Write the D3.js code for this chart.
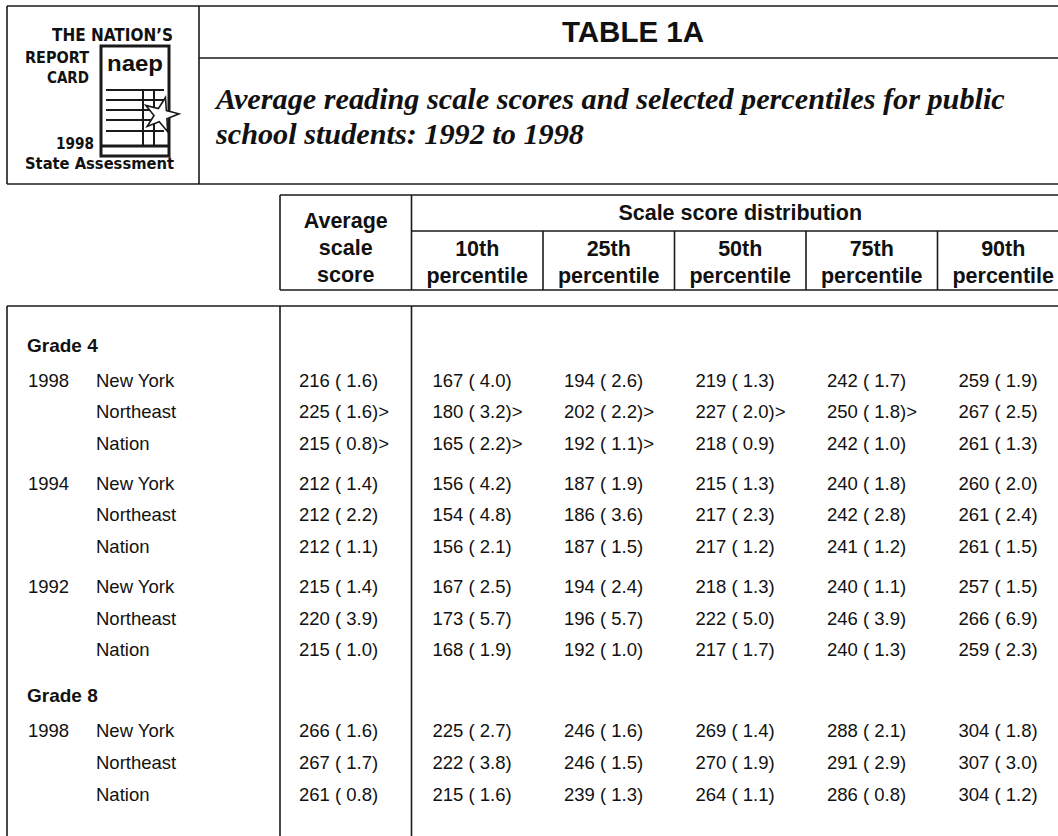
<!DOCTYPE html>
<html>
<head>
<meta charset="utf-8">
<script src="https://cdn.jsdelivr.net/npm/d3@7"></script>
<style>
  html, body { margin: 0; padding: 0; background: #fff; }
  svg { display: block; }
  text { fill: #111; }
</style>
</head>
<body>
<div id="chart"></div>
<script>
// Table 1A - NAEP 1998 reading, New York

const tableTitle = 'TABLE 1A';
const subtitleLines = [
    'Average reading scale scores and selected percentiles for public',
    'school students: 1992 to 1998'
];
const logoLines = ['THE NATION\u2019S', 'REPORT', 'CARD', '1998', 'State Assessment'];

const columns = ['avg', 'p10', 'p25', 'p50', 'p75', 'p90'];
const columnHeaders = [
    ['Average', 'scale', 'score'],
    ['10th', 'percentile'],
    ['25th', 'percentile'],
    ['50th', 'percentile'],
    ['75th', 'percentile'],
    ['90th', 'percentile']
];
const spanHeader = 'Scale score distribution';

const rowGrade = ['Grade 4', 'Grade 4', 'Grade 4', 'Grade 4', 'Grade 4', 'Grade 4',
    'Grade 4', 'Grade 4', 'Grade 4', 'Grade 8', 'Grade 8', 'Grade 8'];
const rowYear = ['1998', '1998', '1998', '1994', '1994', '1994',
    '1992', '1992', '1992', '1998', '1998', '1998'];
const rowPlace = ['New York', 'Northeast', 'Nation', 'New York', 'Northeast', 'Nation',
    'New York', 'Northeast', 'Nation', 'New York', 'Northeast', 'Nation'];

const avgScore = [216, 225, 215, 212, 212, 212, 215, 220, 215, 266, 267, 261];
const avgSE    = [1.6, 1.6, 0.8, 1.4, 2.2, 1.1, 1.4, 3.9, 1.0, 1.6, 1.7, 0.8];
const avgFlag  = ['', '>', '>', '', '', '', '', '', '', '', '', ''];

const p10Score = [167, 180, 165, 156, 154, 156, 167, 173, 168, 225, 222, 215];
const p10SE    = [4.0, 3.2, 2.2, 4.2, 4.8, 2.1, 2.5, 5.7, 1.9, 2.7, 3.8, 1.6];
const p10Flag  = ['', '>', '>', '', '', '', '', '', '', '', '', ''];

const p25Score = [194, 202, 192, 187, 186, 187, 194, 196, 192, 246, 246, 239];
const p25SE    = [2.6, 2.2, 1.1, 1.9, 3.6, 1.5, 2.4, 5.7, 1.0, 1.6, 1.5, 1.3];
const p25Flag  = ['', '>', '>', '', '', '', '', '', '', '', '', ''];

const p50Score = [219, 227, 218, 215, 217, 217, 218, 222, 217, 269, 270, 264];
const p50SE    = [1.3, 2.0, 0.9, 1.3, 2.3, 1.2, 1.3, 5.0, 1.7, 1.4, 1.9, 1.1];
const p50Flag  = ['', '>', '', '', '', '', '', '', '', '', '', ''];

const p75Score = [242, 250, 242, 240, 242, 241, 240, 246, 240, 288, 291, 286];
const p75SE    = [1.7, 1.8, 1.0, 1.8, 2.8, 1.2, 1.1, 3.9, 1.3, 2.1, 2.9, 0.8];
const p75Flag  = ['', '>', '', '', '', '', '', '', '', '', '', ''];

const p90Score = [259, 267, 261, 260, 261, 261, 257, 266, 259, 304, 307, 304];
const p90SE    = [1.9, 2.5, 1.3, 2.0, 2.4, 1.5, 1.5, 6.9, 2.3, 1.8, 3.0, 1.2];
const p90Flag  = ['', '', '', '', '', '', '', '', '', '', '', ''];

const cellScores = [avgScore, p10Score, p25Score, p50Score, p75Score, p90Score];
const cellSE = [avgSE, p10SE, p25SE, p50SE, p75SE, p90SE];
const cellFlags = [avgFlag, p10Flag, p25Flag, p50Flag, p75Flag, p90Flag];

const width = 1058, height = 836;
const sans = 'Arial, "Liberation Sans", Helvetica, sans-serif';
const narrow = '"Liberation Sans Narrow", "DejaVu Sans Condensed", Arial, sans-serif';
const serif = '"Times New Roman", "Liberation Serif", serif';
const ink = '#1a1a1a';

const svg = d3.select('#chart').append('svg')
    .attr('width', width)
    .attr('height', height);

function hline(x1, x2, y) {
    svg.append('line').attr('x1', x1).attr('x2', x2).attr('y1', y).attr('y2', y)
        .attr('stroke', ink).attr('stroke-width', 1.6);
}
function vline(x, y1, y2) {
    svg.append('line').attr('x1', x).attr('x2', x).attr('y1', y1).attr('y2', y2)
        .attr('stroke', ink).attr('stroke-width', 1.6);
}

// ---- title block ----
const box = { left: 7, split: 199, top: 6, mid: 58, bottom: 184 };
hline(box.left, width, box.top);
hline(box.split, width, box.mid);
hline(box.left, width, box.bottom);
vline(box.left, box.top, box.bottom);
vline(box.split, box.top, box.bottom);

svg.append('text')
    .attr('x', 633).attr('y', 42)
    .attr('text-anchor', 'middle')
    .style('font-family', sans).style('font-weight', 'bold').style('font-size', '29.5px')
    .text(tableTitle);

// subtitle, sized so the first line fills the same width as the scan
const sub = svg.append('g').style('font-family', serif)
    .style('font-weight', 'bold').style('font-style', 'italic');
const subText = sub.selectAll('text')
    .data(subtitleLines)
    .join('text')
    .attr('x', 216)
    .attr('y', (d, i) => 109 + i * 35)
    .style('font-size', '26px')
    .text(d => d);
const firstLen = subText.node().getComputedTextLength();
subText.style('font-size', (26 * 789 / firstLen).toFixed(2) + 'px');

// logo
const logo = svg.append('g')
    .style('font-family', narrow).style('font-weight', 'bold');
const logoSpec = [
    { x: 173, y: 41, w: 121, size: 17 },
    { x: 89, y: 63, w: 64, size: 16.5 },
    { x: 89, y: 83, w: 42, size: 16.5 },
    { x: 94, y: 149, w: 38, size: 16.5 },
    { x: 174, y: 169, w: 149, size: 16.5 }
];
logo.selectAll('text')
    .data(logoLines)
    .join('text')
    .attr('x', (d, i) => logoSpec[i].x)
    .attr('y', (d, i) => logoSpec[i].y)
    .attr('text-anchor', 'end')
    .attr('textLength', (d, i) => logoSpec[i].w)
    .attr('lengthAdjust', 'spacingAndGlyphs')
    .style('font-size', (d, i) => logoSpec[i].size + 'px')
    .text(d => d);

// report card page icon
const icon = svg.append('g').attr('stroke', ink).attr('fill', 'none');
icon.append('rect').attr('x', 101).attr('y', 46).attr('width', 68).attr('height', 110)
    .attr('stroke-width', 3);
svg.append('text').attr('x', 135).attr('y', 71).attr('text-anchor', 'middle')
    .attr('textLength', 56).attr('lengthAdjust', 'spacingAndGlyphs')
    .style('font-family', sans).style('font-weight', 'bold').style('font-size', '22px')
    .text('naep');
[90, 100, 110, 120, 131].forEach(y => {
    icon.append('line').attr('x1', 106).attr('x2', 164).attr('y1', y).attr('y2', y)
        .attr('stroke-width', 2);
});
icon.append('line').attr('x1', 101).attr('x2', 169).attr('y1', 146).attr('y2', 146)
    .attr('stroke-width', 3);
icon.append('line').attr('x1', 143).attr('x2', 143).attr('y1', 90).attr('y2', 146)
    .attr('stroke-width', 2);
icon.append('line').attr('x1', 154).attr('x2', 154).attr('y1', 90).attr('y2', 146)
    .attr('stroke-width', 2);
const star = d3.range(10).map(k => {
    const r = k % 2 === 0 ? 18 : 7;
    const a = -Math.PI / 2 + k * Math.PI / 5 + 0.25;
    return [161 + r * Math.cos(a), 115 + r * Math.sin(a)];
});
icon.append('path').attr('d', d3.line()(star) + 'Z')
    .attr('fill', '#fff').attr('stroke-width', 1.6);

// ---- header of the table ----
const x = d3.scaleBand().domain(columns).range([280, 1069]);
const head = { top: 195, span: 231, bottom: 290 };

hline(x('avg'), width, head.top);
hline(x('p10'), width, head.span);
hline(x('avg'), width, head.bottom);
columns.forEach(c => vline(x(c), c === 'avg' || c === 'p10' ? head.top : head.span, head.bottom));

svg.append('text')
    .attr('x', (x('p10') + x('p90') + x.bandwidth()) / 2)
    .attr('y', 212).attr('dy', '0.36em')
    .attr('text-anchor', 'middle')
    .style('font-family', sans).style('font-weight', 'bold').style('font-size', '21.5px')
    .text(spanHeader);

const headG = svg.append('g')
    .style('font-family', sans).style('font-weight', 'bold').style('font-size', '21.5px')
    .attr('text-anchor', 'middle');
columns.forEach((c, ci) => {
    const lines = columnHeaders[ci];
    const y0 = lines.length === 3 ? 220 : 248;
    headG.append('g').selectAll('text')
        .data(lines)
        .join('text')
        .attr('x', x(c) + x.bandwidth() / 2)
        .attr('y', (d, i) => y0 + i * 27)
        .attr('dy', '0.36em')
        .text(d => d);
});

// ---- body of the table ----
const bodyTop = 306;
hline(box.left, width, bodyTop);
vline(box.left, bodyTop, height);
vline(x('avg'), bodyTop, height);
vline(x('p10'), bodyTop, height);

// vertical slot of each printed line: grade headings, year groups and rows
const headingSlots = [];
const rowSlots = [];
let slot = 0;
rowGrade.forEach((g, i) => {
    if (i === 0 || g !== rowGrade[i - 1]) {
        if (i > 0) slot += 1.45;
        headingSlots.push({ grade: g, slot: slot });
        slot += 1.1;
    } else if (rowYear[i] !== rowYear[i - 1]) {
        slot += 1.25;
    } else {
        slot += 1;
    }
    rowSlots.push(slot);
});

const y = d3.scaleLinear().domain([0, 14.15]).range([345, 794]);

svg.append('g').selectAll('text')
    .data(headingSlots)
    .join('text')
    .attr('x', 27)
    .attr('y', d => y(d.slot))
    .attr('dy', '0.36em')
    .style('font-family', sans).style('font-weight', 'bold').style('font-size', '19px')
    .text(d => d.grade);

const body = svg.append('g').style('font-family', sans).style('font-size', '18.5px');

body.append('g').selectAll('text')
    .data(rowYear.map((yr, i) => ({ yr, i })).filter(d => d.i === 0 || d.yr !== rowYear[d.i - 1] || rowGrade[d.i] !== rowGrade[d.i - 1]))
    .join('text')
    .attr('x', 28)
    .attr('y', d => y(rowSlots[d.i]))
    .attr('dy', '0.36em')
    .text(d => d.yr);

body.append('g').selectAll('text')
    .data(rowPlace)
    .join('text')
    .attr('x', 96)
    .attr('y', (d, i) => y(rowSlots[i]))
    .attr('dy', '0.36em')
    .text(d => d);

columns.forEach((c, ci) => {
    body.append('g').selectAll('text')
        .data(cellScores[ci])
        .join('text')
        .attr('x', x(c) + (c === 'avg' ? 19 : 21))
        .attr('y', (d, i) => y(rowSlots[i]))
        .attr('dy', '0.36em')
        .text((d, i) => `${d} ( ${cellSE[ci][i].toFixed(1)})${cellFlags[ci][i]}`);
});
</script>
</body>
</html>
